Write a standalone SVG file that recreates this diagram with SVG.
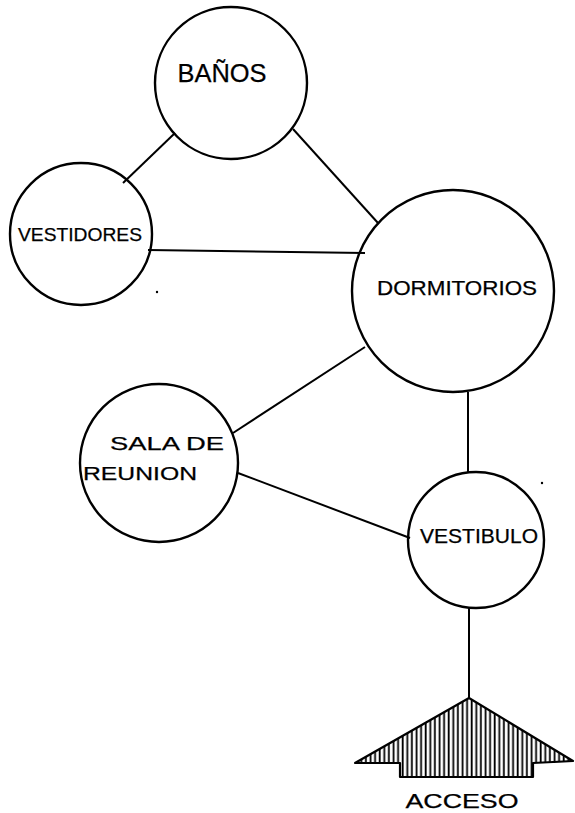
<svg xmlns="http://www.w3.org/2000/svg" width="575" height="813" viewBox="0 0 575 813">
<style>
.c{fill:none;stroke:#000;stroke-width:2.4}
.l{stroke:#000;stroke-width:2;fill:none}
.t{font-family:"Liberation Sans","DejaVu Sans",sans-serif;fill:#000;stroke:#000;stroke-width:0.25;text-anchor:middle}
</style>
<defs>
<pattern id="hatch" width="4.6" height="20" patternUnits="userSpaceOnUse">
<rect x="1.6" y="0" width="1.8" height="20" fill="#000"/>
</pattern>
</defs>
<rect width="575" height="813" fill="#fff"/>
<g id="connectors">
<line class="l" x1="175" y1="133" x2="123" y2="183"/>
<line class="l" x1="293" y1="129" x2="378" y2="223"/>
<line class="l" x1="148" y1="250" x2="365" y2="253"/>
<line class="l" x1="365" y1="347" x2="233" y2="433"/>
<line class="l" x1="238" y1="473" x2="410" y2="538"/>
<line class="l" x1="468" y1="392" x2="468" y2="472"/>
<line class="l" x1="469" y1="607" x2="469" y2="698" stroke-width="2.6"/>
</g>
<g id="banos">
<circle class="c" cx="231" cy="83" r="76"/>
<text class="t" x="222" y="82" font-size="26" textLength="89" lengthAdjust="spacingAndGlyphs">BAÑOS</text>
</g>
<g id="vestidores">
<circle class="c" cx="81" cy="234" r="71"/>
<text class="t" x="80" y="241" font-size="19" textLength="124" lengthAdjust="spacingAndGlyphs">VESTIDORES</text>
</g>
<g id="dormitorios">
<circle class="c" cx="453" cy="291" r="101"/>
<text class="t" x="457" y="295" font-size="20" textLength="160" lengthAdjust="spacingAndGlyphs">DORMITORIOS</text>
</g>
<g id="sala">
<circle class="c" cx="159" cy="463" r="79"/>
<text class="t" x="167" y="450" font-size="19" textLength="114" lengthAdjust="spacingAndGlyphs">SALA DE</text>
<text class="t" x="140" y="480" font-size="19" textLength="114" lengthAdjust="spacingAndGlyphs">REUNION</text>
</g>
<g id="vestibulo">
<circle class="c" cx="476" cy="540" r="68"/>
<text class="t" x="479" y="543" font-size="20" textLength="118" lengthAdjust="spacingAndGlyphs">VESTIBULO</text>
</g>
<g id="acceso">
<polygon points="469,698 573,761 533,763 533,777 400,777 400,763 355,763" fill="url(#hatch)" stroke="#000" stroke-width="2.2" stroke-linejoin="round"/>
<text class="t" x="462" y="808" font-size="21" textLength="113" lengthAdjust="spacingAndGlyphs">ACCESO</text>
</g>
<g id="marks">
<circle cx="157" cy="292" r="1.2" fill="#000"/>
<circle cx="542" cy="483" r="1.2" fill="#000"/>
</g>
</svg>
